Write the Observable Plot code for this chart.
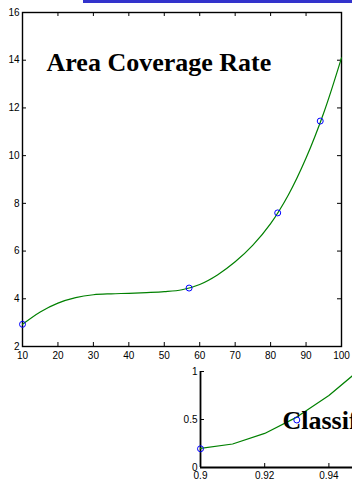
<!DOCTYPE html>
<html>
<head>
<meta charset="utf-8">
<script src="https://cdn.jsdelivr.net/npm/d3@7"></script>
<script src="https://cdn.jsdelivr.net/npm/@observablehq/plot@0.6"></script>
<style>
  html, body { margin: 0; padding: 0; background: white; width: 352px; height: 483px; overflow: hidden; }
  #wrap { position: relative; width: 352px; height: 483px; overflow: hidden; }
  #bar { position: absolute; left: 83px; top: 0; width: 269px; height: 3px; background: #3333cc; z-index: 5; }
  #main { position: absolute; left: 0; top: 0; }
  #inset { position: absolute; left: 0; top: 360px; width: 352px; height: 123px; overflow: hidden; }
  svg { max-width: none !important; }
</style>
</head>
<body>
<div id="wrap">
  <div id="main"></div>
  <div id="inset"></div>
  <div id="bar"></div>
</div>
<script>
// Main chart: Area Coverage Rate
const mainTitle = "Area Coverage Rate";
const acrX = [10, 15, 20, 25, 30, 35, 40, 45, 50, 55, 60, 65, 70, 75, 80, 85, 90, 95, 100];
const acrY = [2.93, 3.45, 3.82, 4.05, 4.17, 4.21, 4.23, 4.26, 4.30, 4.38, 4.60, 5.00, 5.55, 6.25, 7.15, 8.35, 9.90, 11.80, 14.10];
const acrMarkX = [10, 57, 82, 94];
const acrMarkY = [2.93, 4.45, 7.6, 11.45];
const mainXTicks = [10, 20, 30, 40, 50, 60, 70, 80, 90, 100];
const mainYTicks = [2, 4, 6, 8, 10, 12, 14, 16];

// Inset chart: Classification
const insetTitle = "Classification Rate";
const clsX = [0.90, 0.91, 0.92, 0.93, 0.94, 0.95];
const clsY = [0.20, 0.245, 0.355, 0.525, 0.75, 1.03];
const clsMarkX = [0.90, 0.93];
const clsMarkY = [0.195, 0.495];
const insetXTicks = [0.9, 0.92, 0.94];
const insetYTicks = [0, 0.5, 1];
const insetYLabels = ["0", "0.5", "1"];

const acr = acrX.map((x, i) => ({x, y: acrY[i]}));
const acrMarks = acrMarkX.map((x, i) => ({x, y: acrMarkY[i]}));
const cls = clsX.map((x, i) => ({x, y: clsY[i]}));
const clsMarks = clsMarkX.map((x, i) => ({x, y: clsMarkY[i]}));

const W = 352, H = 365, mL = 22, mR = 11, mT = 12, mB = 19;
const innerW = W - mL - mR, innerH = H - mT - mB;
const tk = 4;

const mainPlot = Plot.plot({
  width: W, height: H,
  marginLeft: mL, marginRight: mR, marginTop: mT, marginBottom: mB,
  x: {domain: [10, 100], label: null},
  y: {domain: [2, 16], label: null},
  style: {fontFamily: "Liberation Sans, Arial, sans-serif", fontSize: "10px", color: "black", background: "transparent"},
  marks: [
    Plot.axisX(mainXTicks, {tickSize: 0, tickPadding: 5, fill: "black", label: null}),
    Plot.axisY(mainYTicks, {tickSize: 0, tickPadding: 3, fill: "black", label: null}),
    Plot.tickX(mainXTicks, {x: d => d, insetTop: innerH - tk, stroke: "black"}),
    Plot.tickX(mainXTicks, {x: d => d, insetBottom: innerH - tk, stroke: "black"}),
    Plot.tickY(mainYTicks, {y: d => d, insetRight: innerW - tk, stroke: "black"}),
    Plot.tickY(mainYTicks, {y: d => d, insetLeft: innerW - tk, stroke: "black"}),
    Plot.frame({stroke: "black", strokeWidth: 1.4}),
    Plot.line(acr, {x: "x", y: "y", stroke: "#008000", strokeWidth: 1.2, curve: "catmull-rom"}),
    Plot.dot(acrMarks, {x: "x", y: "y", r: 3, stroke: "#0000ff", strokeWidth: 1}),
    Plot.text([mainTitle], {text: d => d, frameAnchor: "top-left", textAnchor: "start", lineAnchor: "top",
      dx: 24, dy: 40, fontFamily: "Liberation Serif, Times New Roman, serif", fontWeight: "bold", fontSize: 26, fill: "black"})
  ]
});
document.getElementById("main").appendChild(mainPlot);

const iW = 531, iH = 123, imL = 200, imR = 10, imT = 11, imB = 16;
const iInnerW = iW - imL - imR, iInnerH = iH - imT - imB;

const insetPlot = Plot.plot({
  width: iW, height: iH,
  marginLeft: imL, marginRight: imR, marginTop: imT, marginBottom: imB,
  x: {domain: [0.9, 1.0], label: null},
  y: {domain: [0, 1], label: null},
  style: {fontFamily: "Liberation Sans, Arial, sans-serif", fontSize: "10px", color: "black", background: "transparent"},
  marks: [
    Plot.axisX(insetXTicks, {tickSize: 0, tickPadding: 4, fill: "black", label: null, tickFormat: d => String(d)}),
    Plot.axisY(insetYTicks, {tickSize: 0, tickPadding: 3, fill: "black", label: null, tickFormat: (d, i) => insetYLabels[i]}),
    Plot.tickX(insetXTicks, {x: d => d, insetTop: iInnerH - tk, stroke: "black"}),
    Plot.tickY(insetYTicks, {y: d => d, insetRight: iInnerW - tk, stroke: "black"}),
    Plot.ruleX([insetXTicks[0]], {x: d => d, stroke: "black", strokeWidth: 1.8}),
    Plot.ruleY([insetYTicks[0]], {y: d => d, stroke: "black", strokeWidth: 1.8}),
    Plot.line(cls, {x: "x", y: "y", stroke: "#008000", strokeWidth: 1.2, clip: true}),
    Plot.text([insetTitle], {text: d => d, frameAnchor: "top-left", textAnchor: "start", lineAnchor: "top",
      dx: 82, dy: 39, fontFamily: "Liberation Serif, Times New Roman, serif", fontWeight: "bold", fontSize: 26, fill: "black"}),
    Plot.dot(clsMarks, {x: "x", y: "y", r: 3, stroke: "#0000ff", strokeWidth: 1})
  ]
});
document.getElementById("inset").appendChild(insetPlot);
</script>
</body>
</html>
